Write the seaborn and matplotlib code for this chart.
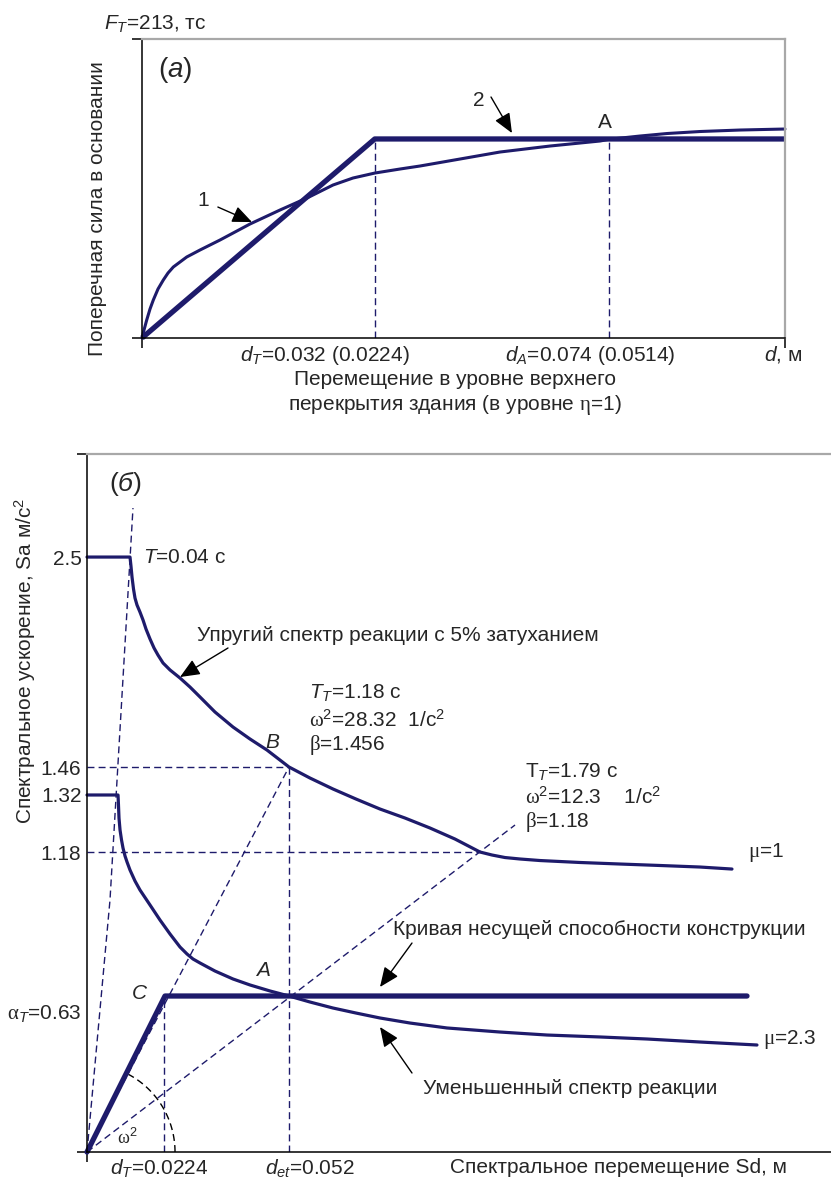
import numpy as np
import pandas as pd
import matplotlib
matplotlib.use("Agg")
import matplotlib.pyplot as plt
import seaborn as sns

# ---------------- data (schematic) ----------------
# Panel (a): x = relative top displacement (0..1 of axis), y = base shear, тс
d_curve1 = [0, 0.00311, 0.00731, 0.01244, 0.01757, 0.02488, 0.03313, 0.04044, 0.04868,
            0.05910, 0.06952, 0.09020, 0.12131, 0.16796, 0.21462, 0.25661, 0.29705,
            0.32815, 0.36236, 0.40124, 0.43235, 0.49456, 0.55677, 0.63453, 0.71229,
            0.72628, 0.77449, 0.81649, 0.86781, 0.93002, 1.0]
F_curve1 = [0, 5.70, 12.82, 20.66, 27.07, 34.91, 41.32, 46.30, 50.58,
            54.14, 57.70, 62.69, 69.81, 81.21, 91.18, 99.73, 108.99,
            113.98, 117.54, 120.39, 122.53, 127.51, 132.50, 136.77, 140.34,
            141.55, 143.90, 145.68, 147.11, 148.17, 148.89]
d_bilin = [0, 0.362, 1.0]
F_bilin = [0, 141.8, 141.8]
F_top = 213
dT_pos_a, dA_pos_a = 0.362, 0.7263
xtick_pos_a = [0.2846, 0.6967, 0.997]
xtick_lab_a = [r"$d_T$=0.032 (0.0224)", r"$d_A$=0.074 (0.0514)", r"$d$, м"]

# Panel (б): schematic Sd (x) and Sa (y), normalised axis units
sd_elastic = [0, 0.0578, 0.0591, 0.0605, 0.0625, 0.0645, 0.0672, 0.0712, 0.0753,
              0.0793, 0.0847, 0.0901, 0.0954, 0.1022, 0.1116, 0.1250, 0.1384,
              0.1519, 0.1720, 0.1962, 0.2191, 0.2419, 0.2715, 0.2997, 0.3306,
              0.3616, 0.3938, 0.4274, 0.4610, 0.4946, 0.5282, 0.5444, 0.5618,
              0.5820, 0.6089, 0.6626, 0.7164, 0.7702, 0.8239, 0.8669]
sa_elastic = [0.8524, 0.8524, 0.8395, 0.8238, 0.8066, 0.7937, 0.7837, 0.7736, 0.7622,
              0.7493, 0.7350, 0.7221, 0.7120, 0.7006, 0.6906, 0.6791, 0.6662,
              0.6519, 0.6304, 0.6089, 0.5917, 0.5759, 0.5516, 0.5358, 0.5201,
              0.5057, 0.4914, 0.4785, 0.4642, 0.4484, 0.4298, 0.4255, 0.4219,
              0.4198, 0.4176, 0.4148, 0.4126, 0.4105, 0.4083, 0.4054]
sd_reduced = [0, 0.0417, 0.0423, 0.0430, 0.0444, 0.0464, 0.0484, 0.0511, 0.0538,
              0.0578, 0.0645, 0.0712, 0.0847, 0.0981, 0.1116, 0.1250, 0.1344,
              0.1425, 0.1519, 0.1720, 0.1962, 0.2191, 0.2460, 0.2715, 0.2997,
              0.3306, 0.3616, 0.3938, 0.4341, 0.4839, 0.5551, 0.6183, 0.6895,
              0.7527, 0.8239, 0.9005]
sa_reduced = [0.5115, 0.5115, 0.4971, 0.4785, 0.4613, 0.4470, 0.4355, 0.4241, 0.4155,
              0.4040, 0.3883, 0.3754, 0.3539, 0.3324, 0.3123, 0.2937, 0.2837,
              0.2765, 0.2708, 0.2593, 0.2479, 0.2393, 0.2307, 0.2235, 0.2149,
              0.2063, 0.1991, 0.1920, 0.1848, 0.1777, 0.1719, 0.1676, 0.1648,
              0.1619, 0.1576, 0.1533]
sd_capacity = [0, 0.1048, 0.8871]
sa_capacity = [0, 0.2235, 0.2235]
ytick_pos_b = [0.8524, 0.5516, 0.5115, 0.4298, 0.2006]
ytick_lab_b = ["2.5", "1.46", "1.32", "1.18", r"$\mathsf{\alpha}_T$=0.63"]
xtick_pos_b = [0.0968, 0.299]
xtick_lab_b = [r"$d_T$=0.0224", r"$d_{et}$=0.052"]
pt_B = (0.2715, 0.5516)
pt_A = (0.2715, 0.2235)
pt_C = (0.1035, 0.2235)
pt_X = (0.5282, 0.4298)
steep_sd = [0, 0.0309, 0.0618]
steep_sa = [0, 0.361, 0.9226]
ray_A_end = (0.5753, 0.4685)

# ---------------- style ----------------
sns.set_theme(style="white")
plt.rcParams["font.family"] = ["Liberation Sans", "DejaVu Sans"]
plt.rcParams["mathtext.fontset"] = "custom"
plt.rcParams["mathtext.rm"] = "Liberation Sans"
plt.rcParams["mathtext.it"] = "Liberation Sans:italic"
plt.rcParams["mathtext.sf"] = "Liberation Serif"
plt.rcParams["mathtext.bf"] = "Liberation Sans:bold"

NAVY = "#1e1b6b"
GRAY = "#a8a8a8"
FS = 15
DASH = (0, (5, 3))

fig = plt.figure(figsize=(8.31, 11.83), dpi=100)
ax1 = fig.add_axes([0.1709, 0.7143, 0.9446 - 0.1709, 0.967 - 0.7143])
ax2 = fig.add_axes([0.1047, 0.0262, 1.0 - 0.1047, 0.6162 - 0.0262])

# ================= panel (a) =================
df1 = pd.DataFrame({"d": d_curve1, "F": F_curve1})
df2 = pd.DataFrame({"d": d_bilin, "F": F_bilin})
ax1.plot([dT_pos_a, dT_pos_a], [0, F_bilin[1]], color=NAVY, lw=1.0, ls=DASH)
ax1.plot([dA_pos_a, dA_pos_a], [0, F_bilin[1]], color=NAVY, lw=1.0, ls=DASH)
sns.lineplot(data=df1, x="d", y="F", ax=ax1, sort=False, estimator=None,
             color=NAVY, lw=2.2, clip_on=False)
sns.lineplot(data=df2, x="d", y="F", ax=ax1, sort=False, estimator=None,
             color=NAVY, lw=3.8, clip_on=False, solid_capstyle="butt")

ax1.set_xlim(0, 1)
ax1.set_ylim(0, F_top)
for s in ["left", "bottom"]:
    ax1.spines[s].set_color("black")
    ax1.spines[s].set_linewidth(1.1)
for s in ["top", "right"]:
    ax1.spines[s].set_color(GRAY)
    ax1.spines[s].set_linewidth(1.6)

ax1.set_xticks(xtick_pos_a)
ax1.set_xticklabels(xtick_lab_a, fontsize=FS)
ax1.set_xticks([0, 1], minor=True)
ax1.set_yticks([])
ax1.set_yticks([0, F_top], minor=True)
ax1.tick_params(axis="x", which="major", length=0, pad=4)
ax1.tick_params(which="minor", length=7, width=1.1, color="black",
                direction="out", bottom=True, left=True)
ax1.set_xlabel("Перемещение в уровне верхнего\nперекрытия здания (в уровне $\\mathsf{\\eta}$=1)",
               fontsize=FS, linespacing=1.2)
ax1.xaxis.set_label_coords(0.487, -0.108)
ax1.set_ylabel("Поперечная сила в основании", fontsize=FS)
ax1.yaxis.set_label_coords(-0.055, 0.433)

ax1.text(0.02, 223.5, r"$F_T$=213, тс", fontsize=FS, ha="center", va="center", clip_on=False)
ax1.text(0.0513, 191, r"($a$)", fontsize=20, ha="center", va="center")
ax1.text(0.0949, 98.3, "1", fontsize=FS, ha="center", va="center")
ax1.text(0.524, 169.5, "2", fontsize=FS, ha="center", va="center")
ax1.text(0.720, 153.2, "A", fontsize=FS, ha="center", va="center")
arrow = dict(arrowstyle="-|>,head_length=0.75,head_width=0.32", color="black",
             lw=1.0, mutation_scale=16, shrinkA=0, shrinkB=0)
ax1.annotate("", xy=(0.171, 82.6), xytext=(0.118, 93.3), arrowprops=arrow)
ax1.annotate("", xy=(0.5754, 146.0), xytext=(0.5428, 171.7), arrowprops=arrow)

# ================= panel (б) =================
dfe = pd.DataFrame({"Sd": sd_elastic, "Sa": sa_elastic})
dfr = pd.DataFrame({"Sd": sd_reduced, "Sa": sa_reduced})
dfc = pd.DataFrame({"Sd": sd_capacity, "Sa": sa_capacity})

# guide lines
ax2.plot(steep_sd, steep_sa, color=NAVY, lw=1.0, ls=DASH)
ax2.plot([0, pt_B[0]], [0, pt_B[1]], color=NAVY, lw=1.0, ls=DASH)
ax2.plot([0, ray_A_end[0]], [0, ray_A_end[1]], color=NAVY, lw=1.0, ls=DASH)
ax2.plot([pt_B[0], pt_B[0]], [0, pt_B[1]], color=NAVY, lw=1.0, ls=DASH)
ax2.plot([0, pt_B[0]], [pt_B[1], pt_B[1]], color=NAVY, lw=1.0, ls=DASH)
ax2.plot([0, pt_X[0]], [pt_X[1], pt_X[1]], color=NAVY, lw=1.0, ls=DASH)
ax2.plot([pt_C[0], pt_C[0]], [0, pt_C[1]], color=NAVY, lw=1.0, ls=DASH)
th = np.linspace(0, np.deg2rad(62), 40)
ax2.plot(0.1183 * np.cos(th), 0.1261 * np.sin(th), color="black", lw=1.0, ls=DASH)

sns.lineplot(data=dfe, x="Sd", y="Sa", ax=ax2, sort=False, estimator=None,
             color=NAVY, lw=2.3, clip_on=False)
sns.lineplot(data=dfr, x="Sd", y="Sa", ax=ax2, sort=False, estimator=None,
             color=NAVY, lw=2.3, clip_on=False)
sns.lineplot(data=dfc, x="Sd", y="Sa", ax=ax2, sort=False, estimator=None,
             color=NAVY, lw=3.8, clip_on=False, solid_capstyle="round")

ax2.set_xlim(0, 1)
ax2.set_ylim(0, 1)
for s in ["left", "bottom"]:
    ax2.spines[s].set_color("black")
    ax2.spines[s].set_linewidth(1.1)
ax2.spines["top"].set_color(GRAY)
ax2.spines["top"].set_linewidth(1.6)
ax2.spines["right"].set_visible(False)

ax2.set_yticks(ytick_pos_b)
ax2.set_yticklabels(ytick_lab_b, fontsize=FS)
ax2.set_xticks(xtick_pos_b)
ax2.set_xticklabels(xtick_lab_b, fontsize=FS)
ax2.set_xticks([0], minor=True)
ax2.set_yticks([0, 1], minor=True)
ax2.tick_params(which="major", length=0, pad=4)
ax2.tick_params(which="minor", length=7, width=1.1, color="black",
                direction="out", bottom=True, left=True)
ax2.set_xlabel("")
ax2.set_ylabel(r"Спектральное ускорение, Sa м/с$^2$", fontsize=FS)
ax2.yaxis.set_label_coords(-0.066, 0.703)
ax2.text(0.4879, -0.0229, "Спектральное перемещение Sd, м", fontsize=FS,
         ha="left", va="center", clip_on=False)

ax2.text(0.0511, 0.9585, r"($б$)", fontsize=19, ha="center", va="center")
ax2.text(0.0753, 0.8524, r"$T$=0.04 с", fontsize=FS, ha="left", va="center")
ax2.text(0.1478, 0.7407, "Упругий спектр реакции с 5% затуханием", fontsize=FS,
         ha="left", va="center")
ax2.annotate("", xy=(0.125, 0.6805), xytext=(0.1895, 0.7221), arrowprops=arrow)
ax2.text(0.2984, 0.6576, r"$T_T$=1.18 с", fontsize=FS, ha="left", va="center")
ax2.text(0.2984, 0.6189, r"$\mathsf{\omega}^2$=28.32  1/с$^2$", fontsize=FS, ha="left", va="center")
ax2.text(0.2984, 0.5831, r"$\mathsf{\beta}$=1.456", fontsize=FS, ha="left", va="center")
ax2.text(0.25, 0.5874, r"$B$", fontsize=FS, ha="center", va="center")
ax2.text(0.5887, 0.5444, r"$\mathrm{T}_T$=1.79 с", fontsize=FS, ha="left", va="center")
ax2.text(0.5887, 0.5086, r"$\mathsf{\omega}^2$=12.3    1/с$^2$", fontsize=FS, ha="left", va="center")
ax2.text(0.5887, 0.4728, r"$\mathsf{\beta}$=1.18", fontsize=FS, ha="left", va="center")
ax2.text(0.8884, 0.4284, r"$\mathsf{\mu}$=1", fontsize=FS, ha="left", va="center")
ax2.text(0.4113, 0.3181, "Кривая несущей способности конструкции", fontsize=FS,
         ha="left", va="center")
ax2.annotate("", xy=(0.3938, 0.2364), xytext=(0.4368, 0.2994), arrowprops=arrow)
ax2.text(0.2366, 0.2607, r"$A$", fontsize=FS, ha="center", va="center")
ax2.text(0.0712, 0.2278, r"$C$", fontsize=FS, ha="center", va="center")
ax2.text(0.9086, 0.1605, r"$\mathsf{\mu}$=2.3", fontsize=FS, ha="left", va="center")
ax2.text(0.4516, 0.0917, "Уменьшенный спектр реакции", fontsize=FS, ha="left", va="center")
ax2.annotate("", xy=(0.3938, 0.1791), xytext=(0.4368, 0.1132), arrowprops=arrow)
ax2.text(0.0538, 0.0201, r"$\mathsf{\omega}^2$", fontsize=13, ha="center", va="center")

fig.savefig("out.png", dpi=100, facecolor="white")
